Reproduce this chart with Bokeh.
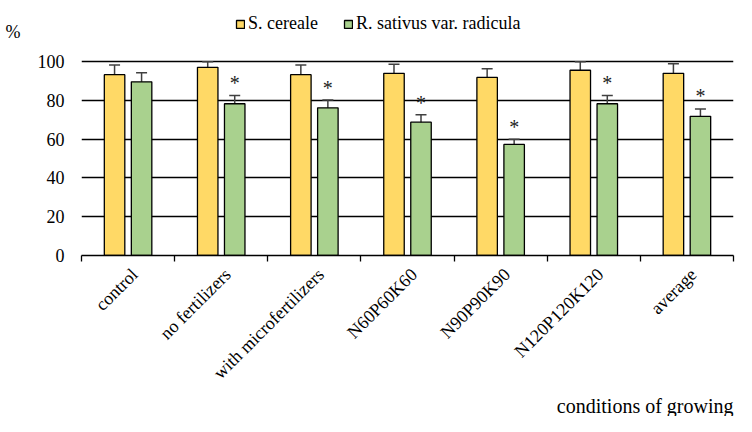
import math
from bokeh.plotting import figure
from bokeh.models import (ColumnDataSource, Whisker, FixedTicker, Legend, LegendItem,
                          LinearAxis, Title)
from bokeh.core.properties import value
from bokeh.embed import file_html
from bokeh.resources import INLINE

categories = ["control", "no fertilizers", "with microfertilizers", "N60P60K60",
              "N90P90K90", "N120P120K120", "average"]
s_cereale = [93.3, 97.1, 93.3, 94.0, 91.9, 95.6, 94.0]
s_cereale_err = [5.0, 5.2, 5.0, 4.7, 4.5, 4.5, 4.9]
r_sativus = [89.6, 78.3, 76.2, 68.8, 57.3, 78.3, 71.8]
r_sativus_err = [4.7, 4.2, 4.1, 3.8, 2.7, 4.2, 3.8]
star_marks = ["", "*", "*", "*", "*", "*", "*"]
star_y = [0.0, 89.0, 86.5, 78.5, 66.5, 89.0, 82.5]
y_ticks = [0, 20, 40, 60, 80, 100]
y_unit = "%"
x_title = "conditions of growing"

FONT = "Liberation Serif"
YELLOW = "#FFD966"
GREEN = "#A9D18E"
OFF = 0.145
BW = 0.22
LBL_SHIFT = 0.07
Y_AXIS_MAX = 100          # value axis ends at 100 (error bars are cut there)
Y_VIEW_MAX = 129.0        # extra headroom above the axis for the legend
Y_UNIT_POS = 115.3        # height at which the unit sign sits

idx = list(range(len(categories)))
src = ColumnDataSource(dict(
    x1=[i - OFF for i in idx], x2=[i + OFF for i in idx],
    s=s_cereale, r=r_sativus,
    s_lo=[v - e for v, e in zip(s_cereale, s_cereale_err)],
    s_hi=[min(v + e, Y_AXIS_MAX) for v, e in zip(s_cereale, s_cereale_err)],
    r_lo=[v - e for v, e in zip(r_sativus, r_sativus_err)],
    r_hi=[min(v + e, Y_AXIS_MAX) for v, e in zip(r_sativus, r_sativus_err)],
    star=star_marks, star_y=star_y,
))

p = figure(width=736, height=416, output_backend="svg", toolbar_location=None,
           x_range=(-0.5, len(categories) - 0.5), y_range=(0, Y_VIEW_MAX),
           min_border_left=81, min_border_right=3, min_border_top=5,
           min_border_bottom=100)
p.outline_line_color = None
p.background_fill_color = "white"

b1 = p.vbar(x="x1", top="s", width=BW, source=src, fill_color=YELLOW,
            line_color="black", line_width=1.3)
b2 = p.vbar(x="x2", top="r", width=BW, source=src, fill_color=GREEN,
            line_color="black", line_width=1.3)

for base, lo, hi in (("x1", "s_lo", "s_hi"), ("x2", "r_lo", "r_hi")):
    w = Whisker(base=base, lower=lo, upper=hi, source=src, dimension="height",
                line_color="#404040", line_width=1.5)
    for h in (w.upper_head, w.lower_head):
        h.size = 11
        h.line_color = "#404040"
        h.line_width = 1.5
    p.add_layout(w)

p.text(x="x2", y="star_y", text="star", source=src, text_align="center",
       text_baseline="middle", text_font=value(FONT), text_font_size="20px",
       text_color="#222222")

# x axis
label_pos = [i + LBL_SHIFT for i in idx]
xa = p.xaxis[0]
xa.ticker = FixedTicker(ticks=label_pos,
                        minor_ticks=[i - 0.5 for i in range(len(categories) + 1)])
xa.major_label_overrides = {pos: c for pos, c in zip(label_pos, categories)}
xa.major_tick_out = 0
xa.major_tick_in = 0
xa.minor_tick_out = 6
xa.minor_tick_in = 0
xa.minor_tick_line_color = "black"
xa.minor_tick_line_width = 1.3
xa.axis_line_color = "black"
xa.axis_line_width = 1.3
xa.major_label_orientation = math.pi / 4
xa.major_label_text_font = FONT
xa.major_label_text_font_size = "18px"
xa.major_label_text_color = "black"
xa.major_label_standoff = 10

# axis title, right-aligned under the category labels
p.add_layout(Title(text=x_title, align="right", text_font=FONT,
                   text_font_size="20px", text_font_style="normal",
                   text_color="black", standoff=0), "below")

# y axis
ya = p.yaxis[0]
ya.ticker = FixedTicker(ticks=y_ticks)
ya.axis_line_color = None
ya.major_tick_line_color = None
ya.minor_tick_line_color = None
ya.major_label_text_font = FONT
ya.major_label_text_font_size = "18px"
ya.major_label_text_color = "black"
ya.major_label_standoff = 11

# unit sign, shown by an outer axis at the top-left
ua = LinearAxis(ticker=FixedTicker(ticks=[Y_UNIT_POS]),
                major_label_overrides={Y_UNIT_POS: y_unit},
                axis_line_color=None, major_tick_line_color=None,
                minor_tick_line_color=None, major_label_standoff=8,
                major_label_text_font=FONT, major_label_text_font_size="18px",
                major_label_text_color="black")
p.add_layout(ua, "left")

p.xgrid.grid_line_color = None
p.ygrid.grid_line_color = "black"
p.ygrid.grid_line_width = 1.3
p.ygrid.ticker = FixedTicker(ticks=y_ticks[1:])

legend = Legend(items=[LegendItem(label="S. cereale", renderers=[b1]),
                       LegendItem(label="R. sativus var. radicula", renderers=[b2])],
                orientation="horizontal", location=(154, 221),
                glyph_width=10, glyph_height=10, label_height=20, label_standoff=3,
                spacing=25, padding=0, margin=0, border_line_color=None,
                background_fill_alpha=0, label_text_font=FONT,
                label_text_font_size="18px", label_text_color="black")
p.add_layout(legend, "center")

open("out.html", "w").write(file_html(p, INLINE))
